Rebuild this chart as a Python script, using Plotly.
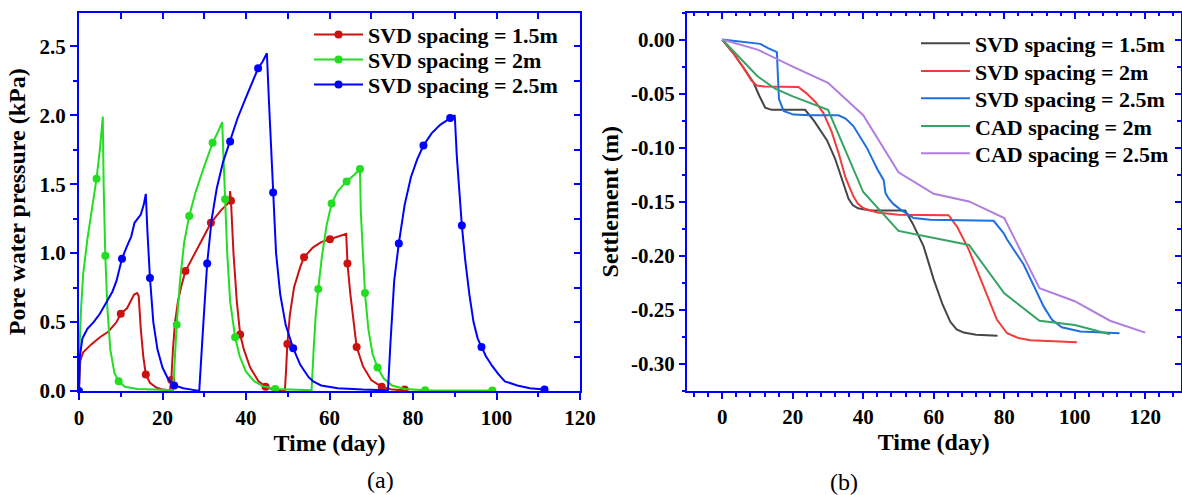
import plotly.graph_objects as go

# ---------------- (a) Pore water pressure ----------------
# SVD spacing = 1.5m  (line + marker points)
red_t = [0, 0.3, 1, 3, 5, 7, 9, 10, 11.5, 12.5, 13.2, 13.9, 14.3, 14.8, 15.4, 16, 17, 18.5, 20, 21.8,
         22.1, 22.5, 23, 23.7, 24.5, 25.5, 27, 29, 31.6, 34, 36.0, 36.2, 36.4, 37, 37.8, 38.6, 39.5, 41,
         43, 44.7, 46.5, 49.3, 49.6, 49.9, 50.5, 51.5, 53, 53.9, 56, 58, 60.1, 62, 64, 64.2, 64.3, 65,
         65.8, 66.5, 68, 70, 72.5, 75, 78]
red_p = [0.02, 0.22, 0.28, 0.34, 0.39, 0.43, 0.5, 0.56, 0.6, 0.66, 0.7, 0.71, 0.69, 0.45, 0.25, 0.12,
         0.06, 0.025, 0.01, 0.005, 0.08, 0.3, 0.5, 0.65, 0.76, 0.87, 0.96, 1.07, 1.22, 1.31, 1.37, 1.45,
         1.38, 1.0, 0.65, 0.41, 0.3, 0.17, 0.07, 0.03, 0.01, 0.0, 0.15, 0.34, 0.55, 0.75, 0.9, 0.97,
         1.04, 1.08, 1.10, 1.12, 1.14, 1.0, 0.925, 0.7, 0.48, 0.32, 0.18, 0.08, 0.03, 0.01, 0.005]
red_mt = [10, 16, 22.1, 25.5, 31.6, 36.4, 38.6, 44.7, 49.9, 53.9, 60.1, 64.3, 66.5, 72.5, 78]
red_mp = [0.56, 0.12, 0.08, 0.87, 1.22, 1.38, 0.41, 0.03, 0.34, 0.97, 1.10, 0.925, 0.32, 0.03, 0.01]

# SVD spacing = 2m
green_t = [0, 0.1, 0.5, 1, 2, 3, 4.2, 5, 5.7, 5.9, 6.3, 6.8, 7.5, 8.5, 9.5, 11, 14, 18, 22.5, 22.8,
           23.4, 24.2, 25.2, 26.4, 28, 30, 32, 33.3, 34.3, 34.6, 35, 35.5, 36.2, 37.4, 38.5, 40, 42,
           44, 47, 50, 55.7, 56.2, 56.7, 57.3, 58.2, 59.3, 60.5, 62, 64.1, 66, 67.3, 67.5, 68, 68.5,
           69.3, 70.3, 71.5, 73, 75, 78, 82.9, 90, 99]
green_p = [0, 0.3, 0.6, 0.85, 1.1, 1.3, 1.54, 1.75, 1.99, 1.5, 0.98, 0.6, 0.3, 0.13, 0.07, 0.03,
           0.015, 0.01, 0.005, 0.15, 0.48, 0.8, 1.08, 1.27, 1.45, 1.63, 1.80, 1.88, 1.95, 1.7, 1.39,
           1.0, 0.65, 0.39, 0.25, 0.14, 0.07, 0.035, 0.015, 0.01, 0.005, 0.3, 0.55, 0.74, 0.98, 1.2,
           1.36, 1.45, 1.52, 1.57, 1.61, 1.3, 1.0, 0.71, 0.45, 0.27, 0.17, 0.09, 0.04, 0.015, 0.005,
           0.003, 0.003]
green_mt = [4.2, 6.3, 9.5, 23.4, 26.4, 32, 35, 37.4, 47, 57.3, 60.5, 64.1, 67.3, 68.5, 71.5, 82.9, 99]
green_mp = [1.54, 0.98, 0.07, 0.48, 1.27, 1.80, 1.39, 0.39, 0.015, 0.74, 1.36, 1.52, 1.61, 0.71, 0.17,
            0.005, 0.003]

# SVD spacing = 2.5m
blue_t = [0, 0.2, 0.8, 2, 3.5, 5, 6.5, 8, 9, 10.3, 11.5, 12.5, 13.3, 14, 14.8, 15.5, 16, 16.4, 17,
          17.8, 18.8, 20, 21.3, 22.8, 25, 27, 28.8, 29.6, 30.7, 31.8, 33, 34.5, 36.2, 38, 40, 42, 42.9,
          44, 45, 45.5, 46, 46.5, 47.2, 48.2, 49.5, 51.3, 53, 55, 56.1, 58, 62, 68, 74, 74.6, 75.5,
          76.6, 78, 79.5, 81, 82.5, 84.5, 86.5, 88.9, 90, 90.5, 91.2, 91.7, 92.5, 93.5, 94.5, 95.5,
          96.4, 97.5, 99, 100.5, 102, 105, 108, 111.5]
blue_p = [0, 0.25, 0.38, 0.45, 0.5, 0.56, 0.64, 0.72, 0.8, 0.96, 1.05, 1.12, 1.22, 1.25, 1.28, 1.35,
          1.43, 1.15, 0.82, 0.5, 0.3, 0.17, 0.09, 0.04, 0.02, 0.01, 0.0, 0.4, 0.925, 1.25, 1.47, 1.66,
          1.81, 1.98, 2.13, 2.27, 2.34, 2.39, 2.45, 2.1, 1.75, 1.44, 1.0, 0.7, 0.48, 0.31, 0.19, 0.1,
          0.07, 0.04, 0.02, 0.01, 0.005, 0.35, 0.8, 1.07, 1.35, 1.55, 1.68, 1.78, 1.87, 1.93, 1.98, 2.0,
          1.7, 1.4, 1.2, 0.95, 0.7, 0.5, 0.38, 0.32, 0.25, 0.18, 0.12, 0.07, 0.04, 0.02, 0.01]
blue_mt = [0, 10.3, 17, 22.8, 30.7, 36.2, 42.9, 46.5, 51.3, 76.6, 82.5, 88.9, 91.7, 96.4, 111.5]
blue_mp = [0, 0.96, 0.82, 0.04, 0.925, 1.81, 2.34, 1.44, 0.31, 1.07, 1.78, 1.98, 1.2, 0.32, 0.01]

names_a = ["SVD spacing = 1.5m", "SVD spacing = 2m", "SVD spacing = 2.5m"]
colors_a = ["#cc1111", "#22dd22", "#0000ff"]

# ---------------- (b) Settlement ----------------
s15_t = [0, 3, 6, 8.9, 10.5, 12.2, 14, 23.5, 26, 29.7, 32, 34, 35.8, 37, 38.5, 42, 51.9, 54, 57.1,
         60, 62.5, 64.7, 66.5, 68.5, 72, 78.1]
s15_s = [0, -0.012, -0.026, -0.040, -0.052, -0.063, -0.065, -0.065, -0.075, -0.093, -0.11, -0.13,
         -0.147, -0.153, -0.156, -0.158, -0.158, -0.170, -0.191, -0.222, -0.245, -0.261, -0.268,
         -0.271, -0.273, -0.274]
s2_t = [0, 3, 6, 8.3, 9.8, 12, 21.6, 24, 26.5, 28.7, 31, 33, 35, 37.2, 38.5, 40.1, 44, 50, 64.2,
        66.6, 69.9, 74, 77.9, 80.8, 84, 87.4, 93, 100.6]
s2_s = [0, -0.012, -0.026, -0.038, -0.0426, -0.0435, -0.0438, -0.05, -0.058, -0.068, -0.085, -0.105,
        -0.128, -0.145, -0.152, -0.156, -0.16, -0.162, -0.1625, -0.173, -0.194, -0.228, -0.259,
        -0.2716, -0.276, -0.278, -0.279, -0.280]
s25_t = [0, 5, 10.8, 13, 15.5, 15.8, 16.1, 17.4, 20.2, 25, 33, 35, 37.2, 41, 44, 45.8, 46.3, 47.2,
         48.5, 50.5, 54.3, 59, 77, 79.8, 80.8, 85.5, 91.2, 93.5, 96.3, 101.6, 112.7]
s25_s = [0, -0.002, -0.004, -0.008, -0.0117, -0.035, -0.055, -0.066, -0.0694, -0.070, -0.070,
         -0.073, -0.080, -0.100, -0.120, -0.130, -0.142, -0.147, -0.152, -0.157, -0.165, -0.1667,
         -0.1676, -0.179, -0.185, -0.208, -0.247, -0.259, -0.266, -0.270, -0.2716]
c2_t = [0, 10, 15, 20, 30, 40, 50, 70, 80, 90, 100, 110]
c2_s = [0, -0.034, -0.0455, -0.0525, -0.065, -0.141, -0.177, -0.190, -0.2346, -0.260, -0.264, -0.2725]
c25_t = [0, 10, 20, 30, 40, 50, 60, 70, 80, 90, 100, 110, 120]
c25_s = [0, -0.0093, -0.025, -0.040, -0.070, -0.1228, -0.1426, -0.1497, -0.165, -0.230, -0.242,
         -0.260, -0.271]

names_b = ["SVD spacing = 1.5m", "SVD spacing = 2m", "SVD spacing = 2.5m",
           "CAD spacing = 2m", "CAD spacing = 2.5m"]
colors_b = ["#454545", "#f23c3c", "#1f6fe0", "#35a363", "#b07ee0"]

ytick_b_vals = [0.0, -0.05, -0.10, -0.15, -0.20, -0.25, -0.30]
ytick_b_text = ["0.00", "-0.05", "-0.10", "-0.15", "-0.20", "-0.25", "-0.30"]

FONT = "Liberation Serif"
AX = "#0000ff"
W, H = 1182, 495

fig = go.Figure()

# ---- panel (a) traces ----
series_a = [(red_t, red_p, red_mt, red_mp), (green_t, green_p, green_mt, green_mp),
            (blue_t, blue_p, blue_mt, blue_mp)]
for i, (t, p, mt, mp) in enumerate(series_a):
    c = colors_a[i]
    fig.add_trace(go.Scatter(x=t, y=p, mode="lines", line=dict(color=c, width=2),
                             showlegend=False, xaxis="x", yaxis="y", hoverinfo="skip"))
    fig.add_trace(go.Scatter(x=mt, y=mp, mode="markers", marker=dict(color=c, size=8),
                             showlegend=False, xaxis="x", yaxis="y"))
    fig.add_trace(go.Scatter(x=[None], y=[None], mode="lines+markers", name=names_a[i],
                             line=dict(color=c, width=2), marker=dict(color=c, size=8),
                             xaxis="x", yaxis="y", legend="legend" if i == 0 else f"legend{i+1}"))

# ---- panel (b) traces ----
series_b = [(s15_t, s15_s), (s2_t, s2_s), (s25_t, s25_s), (c2_t, c2_s), (c25_t, c25_s)]
for i, (t, s) in enumerate(series_b):
    fig.add_trace(go.Scatter(x=t, y=s, mode="lines", name=names_b[i],
                             line=dict(color=colors_b[i], width=2),
                             xaxis="x2", yaxis="y2", legend=f"legend{i+4}"))

# helper empty traces to activate mirror axes
fig.add_trace(go.Scatter(x=[], y=[], xaxis="x3", yaxis="y", showlegend=False))
fig.add_trace(go.Scatter(x=[], y=[], xaxis="x", yaxis="y3", showlegend=False))
fig.add_trace(go.Scatter(x=[], y=[], xaxis="x4", yaxis="y2", showlegend=False))
fig.add_trace(go.Scatter(x=[], y=[], xaxis="x2", yaxis="y4", showlegend=False))

tickfont = dict(family=FONT, size=21, color="black", weight="bold")
titlefont = dict(family=FONT, size=24, color="black", weight="bold")

dom_a = [79 / W, 580 / W]
dom_b = [687 / W, 1180.5 / W]
dom_y = [1 - 391 / H, 1 - 12.5 / H]
rng_a_x = [0, 120]
rng_a_y = [0, 2.745]
rng_b_x = [-10, 130]
rng_b_y = [-0.325, 0.025]

base = dict(showgrid=False, zeroline=False, showline=True, linecolor=AX, linewidth=2,
            tickcolor=AX, tickwidth=2, tickfont=tickfont, automargin=False)

fig.update_layout(
    width=W, height=H, margin=dict(l=0, r=0, t=0, b=0, pad=0, autoexpand=False),
    paper_bgcolor="white", plot_bgcolor="white",
    xaxis=dict(**base, domain=dom_a, anchor="y", range=rng_a_x, tick0=0, dtick=20,
               ticks="outside", ticklen=7,
               minor=dict(dtick=10, ticks="outside", ticklen=4, tickwidth=2, tickcolor=AX),
               title=dict(text="Time (day)", font=titlefont, standoff=3)),
    yaxis=dict(**base, domain=dom_y, anchor="x", range=rng_a_y, tick0=0, dtick=0.5,
               tickformat=".1f", ticks="outside", ticklen=7,
               minor=dict(dtick=0.25, ticks="outside", ticklen=4, tickwidth=2, tickcolor=AX),
               title=dict(text="Pore water pressure (kPa)", font=titlefont, standoff=7)),
    xaxis3=dict(**base, overlaying="x", anchor="y", side="top", range=rng_a_x, tick0=0, dtick=10,
                ticks="inside", ticklen=6, showticklabels=False),
    yaxis3=dict(**base, overlaying="y", anchor="x", side="right", range=rng_a_y, tick0=0,
                dtick=0.25, ticks="inside", ticklen=6, showticklabels=False),
    xaxis2=dict(**base, domain=dom_b, anchor="y2", range=rng_b_x, tick0=0, dtick=20,
                ticks="outside", ticklen=6,
                minor=dict(dtick=4, tick0=0, ticks="outside", ticklen=4, tickwidth=2, tickcolor=AX),
                title=dict(text="Time (day)", font=titlefont, standoff=3)),
    yaxis2=dict(**base, domain=dom_y, anchor="x2", range=rng_b_y, tickmode="array",
                tickvals=ytick_b_vals, ticktext=ytick_b_text, ticks="outside", ticklen=6,
                minor=dict(dtick=0.025, tick0=0, ticks="outside", ticklen=3, tickwidth=2, tickcolor=AX),
                title=dict(text="Settlement (m)", font=titlefont, standoff=6)),
    xaxis4=dict(**base, overlaying="x2", anchor="y2", side="top", range=rng_b_x, tick0=0, dtick=20,
                ticks="inside", ticklen=6, showticklabels=False,
                minor=dict(dtick=4, tick0=0, ticks="inside", ticklen=3, tickwidth=2, tickcolor=AX)),
    yaxis4=dict(**base, overlaying="y2", anchor="x2", side="right", range=rng_b_y, tick0=0,
                dtick=0.05, ticks="inside", ticklen=6, showticklabels=False,
                minor=dict(dtick=0.025, tick0=0, ticks="inside", ticklen=4, tickwidth=2, tickcolor=AX)),
    annotations=[
        dict(text="(a)", x=380 / W, y=1 - 480 / H, xref="paper", yref="paper", showarrow=False,
             font=dict(family=FONT, size=24, color="black"), xanchor="center", yanchor="middle"),
        dict(text="(b)", x=844 / W, y=1 - 482 / H, xref="paper", yref="paper", showarrow=False,
             font=dict(family=FONT, size=24, color="black"), xanchor="center", yanchor="middle"),
    ],
)

legfont = dict(family=FONT, size=22, color="black", weight="bold")
rows_a = [34.8, 59.8, 84.8]
rows_b = [43.5, 71.2, 98.5, 126.2, 153.5]
for i, r in enumerate(rows_a):
    key = "legend" if i == 0 else f"legend{i+1}"
    fig.update_layout({key: dict(x=(368 - 59) / W, y=1 - r / H, xanchor="left", yanchor="middle",
                                 itemwidth=49, bgcolor="rgba(0,0,0,0)", borderwidth=0, font=legfont)})
for i, r in enumerate(rows_b):
    key = f"legend{i+4}"
    fig.update_layout({key: dict(x=(975 - 59) / W, y=1 - r / H, xanchor="left", yanchor="middle",
                                 itemwidth=49, bgcolor="rgba(0,0,0,0)", borderwidth=0, font=legfont)})

fig.write_html("out.html")
